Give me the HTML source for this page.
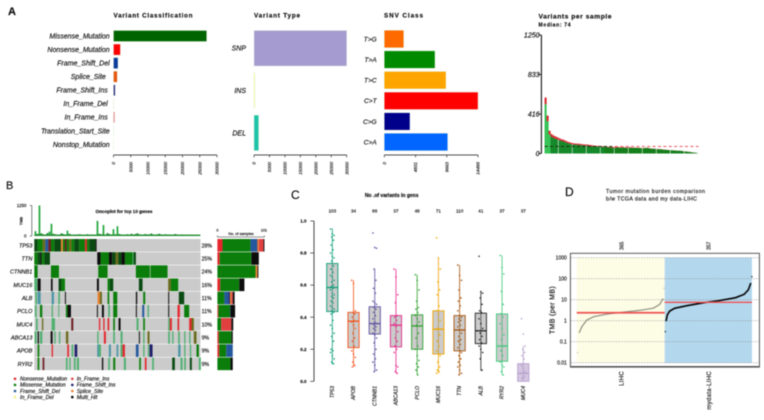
<!DOCTYPE html>
<html lang="en">
<head>
<meta charset="utf-8">
<title>Mutation landscape figure</title>
<style>
html,body{margin:0;padding:0;background:#fff;width:764px;height:420px;overflow:hidden}
svg{display:block;filter:blur(.42px)}
text{font-family:"Liberation Sans",Arial,sans-serif;fill:#0a0a0a;stroke:#0a0a0a;stroke-width:.14px}
.b{font-weight:700}
</style>
</head>
<body>
<svg id="fig" width="764" height="420" viewBox="0 0 764 420" xmlns="http://www.w3.org/2000/svg">
<rect width="764" height="420" fill="#fff"/>
<text class="b" x="8" y="15" font-size="11">A</text>
<text x="6" y="189" font-size="11">B</text>
<text x="291" y="199" font-size="12">C</text>
<text x="565" y="196" font-size="12">D</text>

<text class="b" x="113.5" y="17.5" font-size="6.3" textLength="79">Variant Classification</text>
<text class="b" x="254" y="17.5" font-size="6.3" textLength="46">Variant Type</text>
<text class="b" x="384" y="17.5" font-size="6.3" textLength="39">SNV Class</text>
<text class="b" x="538.5" y="18.5" font-size="6.8" textLength="73">Variants per sample</text>
<text class="b" x="538.5" y="26.5" font-size="5" textLength="32">Median: 74</text>
<text class="b" x="124" y="213" font-size="4.6" text-anchor="middle">Oncoplot for top 10 genes</text>
<text x="241" y="235" font-size="3.8" text-anchor="middle">No. of samples</text>
<text class="b" x="391.7" y="197" font-size="5" text-anchor="middle">No .of variants in gens</text>
<text x="606" y="193" font-size="5.3" textLength="99">Tumor mutation burden comparison</text>
<text x="606" y="200.5" font-size="5.3" textLength="91">b/w TCGA data and my data-LIHC</text>
<text x="0" y="0" font-size="7" transform="translate(554.5,310) rotate(-90)" text-anchor="middle" letter-spacing=".35">TMB (per MB)</text>

<g id="a1"></g>
<g id="a2"></g>
<g id="a3"></g>
<g id="a4"></g>
<g id="b1"></g>
<g id="b2"></g>
<g id="b3"></g>
<g id="b4"></g>
<g id="c1"></g>
<g id="d1"></g>
</svg>
<script>
/* ---------- Panel A data ---------- */
const classCategories = ["Missense_Mutation","Nonsense_Mutation","Frame_Shift_Del","Splice_Site\u00a0\u00a0","Frame_Shift_Ins\u00a0","In_Frame_Del\u00a0","In_Frame_Ins\u00a0","Translation_Start_Site","Nonstop_Mutation"];
const classCounts = [27000,2000,1300,1100,500,120,350,15,10];
const classTicks = [0,5000,10000,15000,20000,25000,30000];
const typeCategories = ["SNP","INS","DEL"];
const typeCounts = [30000,300,1500];
const typeTicks = [0,5000,10000,15000,20000,25000,30000];
const snvCategories = ["T>G","T>A","T>C","C>T","C>G","C>A"];
const snvCounts = [3000,7840,9540,14495,3970,9800];
const snvTicks = [0,4831,9663,14495];
const sampleTotals = [590,400,240,205,190,180,170,160,150,145,135,125,118,112,108,105,104,103,98,97,95,94,90,88,84,82,80,80,78,76,74,72,70,68,67,68,69,66,66,68,64,66,67,63,62,62,61,60,58,58,60,60,56,53,52,50,48,47,45,42,40,38,36,35,33,32,30,30,28,24,22,20,17,14,11,8,4];
const sampleOther = [70,60,40,30,25,25,22,20,18,18,16,15,14,14,12,12,12,14,12,10,12,10,10,12,10,8,8,8,8,6,6,6,6,6,8,6,6,4,4,6,4,4,6,2,4,2,2,2,2,2,2,2,2,2,2,2,2,2,2,2,1,1,1,1,1,1,1,1,1,1,1,1,1,1,1,0,0];
const sampleTicks = [0,416,833,1250];
const sampleMedian = 74;

/* ---------- Panel B data ---------- */
const tmbValues = [200,90,1250,110,70,60,120,180,500,90,70,50,60,110,80,60,220,90,50,40,60,55,70,50,40,50,70,45,60,40,50,620,90,70,450,60,120,80,60,280,70,400,80,50,45,60,70,50,90,60,80,110,70,50,60,80,60,70,100,60,50,70,90,60,50,70,60,55,45,60,80,50,40,60,50,40,30,50,40,30,40,30,25];
const tmbTicks = [0,1250];
const oncoGenes = ["TP53","TTN","CTNNB1","MUC16","ALB","PCLO","MUC4","ABCA13","APOB","RYR2"];
const oncoPercents = ["28%","25%","24%","16%","11%","11%","10%","9%","9%","9%"];
const oncoSegments = [
 [[0,10,"D"],[10,25,"M"],[25,33,"O"],[33,42,"F"],[42,50,"B"],[50,60,"M"],[60,80,"D"],[80,86,"S"],[86,92,"M"],[92,97,"B"],[97,104,"M"],[104,112,"O"],[112,120,"M"],[120,135,"D"],[135,152,"M"],[152,158,"N"],[158,165,"M"],[165,184,"D"],[184,187,"H"]],
 [[0,10,"M"],[10,18,"D"],[18,22,"H"],[22,30,"M"],[30,47,"D"],[189,199,"H"],[199,224,"M"],[224,234,"H"],[234,244,"D"],[244,252,"O"],[252,262,"D"],[262,272,"H"],[272,295,"M"],[295,298,"L"],[298,305,"D"]],
 [[0,10,"M"],[50,74,"M"],[192,220,"M"],[305,347,"M"],[349,400,"M"]],
 [[0,9,"L"],[10,19,"H"],[50,55,"H"],[73,82,"D"],[82,92,"M"],[188,194,"H"],[220,227,"M"],[227,237,"D"],[314,325,"D"],[402,410,"O"],[410,432,"M"]],
 [[3,8,"L"],[10,19,"T"],[52,59,"T"],[72,77,"L"],[92,95,"H"],[190,197,"S"],[197,203,"O"],[220,225,"M"],[237,249,"M"],[305,309,"H"],[327,333,"M"],[402,405,"H"],[434,450,"D"]],
 [[2,7,"L"],[17,24,"M"],[52,56,"L"],[72,75,"L"],[95,100,"M"],[100,110,"H"],[188,191,"H"],[203,209,"H"],[222,227,"L"],[237,249,"M"],[305,308,"H"],[324,330,"F"],[340,344,"L"],[402,405,"H"],[430,437,"N"],[450,465,"M"]],
 [[5,10,"L"],[23,27,"O"],[52,62,"L"],[111,117,"B"],[194,198,"N"],[207,211,"N"],[220,225,"N"],[237,242,"M"],[253,259,"H"],[307,313,"L"],[327,332,"M"],[402,407,"L"],[407,413,"N"],[430,435,"N"],[465,472,"N"],[472,479,"O"]],
 [[1,7,"L"],[10,14,"H"],[17,24,"L"],[49,55,"H"],[60,64,"L"],[74,78,"L"],[95,102,"O"],[189,193,"L"],[209,215,"N"],[237,242,"L"],[259,265,"L"],[314,317,"H"],[327,331,"L"],[340,346,"O"],[402,407,"L"],[414,418,"L"],[432,437,"L"],[450,454,"L"],[465,469,"L"],[479,487,"O"]],
 [[10,15,"M"],[52,56,"N"],[99,104,"N"],[112,117,"L"],[121,129,"P"],[189,194,"T"],[194,200,"L"],[224,230,"T"],[247,252,"T"],[259,265,"L"],[265,272,"N"],[305,313,"F"],[327,331,"L"],[341,345,"L"],[346,355,"P"],[432,439,"T"],[450,454,"L"],[467,471,"L"],[487,494,"M"]],
 [[10,15,"M"],[25,30,"B"],[95,100,"L"],[105,109,"L"],[119,124,"L"],[128,134,"L"],[203,207,"H"],[222,227,"L"],[237,243,"M"],[269,275,"L"],[315,320,"M"],[332,337,"N"],[354,359,"L"],[414,422,"D"],[439,445,"L"],[450,455,"L"],[467,473,"D"],[494,500,"L"]]
];
const stackTypes = ["N","M","F","P","S","I","H"];
const oncoStacks = [
 [11,60,14,1,3,10,2],[5,68,0,0,0,0,16],[0,82,0,0,4,0,2],[6,41,0,0,0,0,11],[0,15,9,3,3,3,4],
 [2,25,1,0,0,0,10],[0,8,0,0,0,22,4],[3,27,0,0,0,0,3],[4,15,14,0,0,0,0],[0,28,0,0,0,0,5]
];
const legendLabels = ["Nonsense_Mutation","Missense_Mutation","Frame_Shift_Del","In_Frame_Del","In_Frame_Ins","Frame_Shift_Ins","Splice_Site","Multi_Hit"];
const legendTypes = ["N","M","F","Y","I","P","S","H"];

/* ---------- Panel C data ---------- */
const boxGenes = ["TP53","APOB","CTNNB1","ABCA13","PCLO","MUC16","TTN","ALB","RYR2","MUC4"];
const boxCounts = [103,34,88,37,48,71,110,41,37,37];
const boxQ1 = [.435,.21,.295,.215,.2,.17,.19,.235,.125,0];
const boxMedian = [.585,.375,.36,.35,.345,.325,.32,.315,.22,.05];
const boxQ3 = [.735,.43,.465,.41,.415,.44,.41,.425,.42,.11];
const boxLow = [.105,.09,.06,.05,.04,.05,.04,.065,.04,0];
const boxHigh = [.955,.63,.70,.70,.665,.77,.725,.56,.785,.22];
const boxTicks = [0,.2,.4,.6,.8,1];
const boxPoints = [
 [.95,.92,.91,.9,.88,.85,.82,.8,.78,.77,.75,.72,.7,.68,.66,.65,.63,.62,.6,.59,.58,.57,.55,.54,.53,.52,.5,.49,.47,.46,.45,.44,.43,.42,.38,.35,.33,.3,.28,.25,.2,.19,.18,.16,.14,.12,.11],
 [.63,.61,.44,.43,.42,.4,.38,.37,.35,.33,.3,.27,.25,.22,.19,.17,.15,.12,.1,.09],
 [.925,.835,.83,.7,.63,.58,.55,.5,.49,.48,.46,.45,.43,.41,.39,.37,.36,.35,.34,.33,.32,.3,.29,.27,.24,.2,.17,.14,.12,.1,.07,.06],
 [.7,.65,.54,.49,.41,.4,.38,.36,.34,.31,.27,.25,.22,.2,.18,.1,.09,.06,.05],
 [.665,.63,.57,.5,.46,.45,.43,.41,.39,.37,.35,.3,.27,.22,.2,.16,.13,.11,.09,.07,.04],
 [.895,.77,.7,.62,.57,.54,.47,.44,.42,.38,.33,.29,.25,.22,.19,.17,.16,.12,.09,.07,.06,.05],
 [.725,.66,.63,.57,.52,.5,.47,.44,.41,.4,.39,.38,.37,.35,.34,.32,.3,.28,.26,.25,.23,.21,.19,.18,.16,.14,.12,.1,.09,.07,.05,.04],
 [.78,.56,.55,.52,.48,.44,.43,.39,.36,.33,.3,.28,.26,.24,.22,.2,.18,.14,.07],
 [.785,.71,.67,.56,.48,.42,.4,.36,.33,.29,.26,.22,.19,.16,.12,.1,.09,.06,.04],
 [.39,.295,.22,.2,.18,.16,.14,.1,.08,.06,.05,.03,.02]
];

/* ---------- Panel D data ---------- */
const tmbTicksLog = [1000,100,10,1,0.1,0.01];
const tmbTickLabels = ["1000","100","10","1","0.1","0.01"];
const lihcRanks = [3,10,20,40,70,130,200,270,320,345,359,363];
const lihcTmb = [.03,.27,.5,1.05,1.55,2.1,2.6,3.2,4,6,11,35];
const lihcMedian = 2.4;
const mydataRanks = [2,5,10,20,40,90,160,220,290,325,342,352,357];
const mydataTmb = [.3,1,1.9,2.9,3.9,5.2,7.2,8.9,12.5,18,29,60,125];
const mydataMedian = 7.5;
const cohortCounts = ["365","357"];
const cohortNames = ["LIHC","mydata-LIHC"];

/* ---------- Drawing helpers ---------- */
const NS = "http://www.w3.org/2000/svg";
const $ = id => document.getElementById(id);
function shape(parent, tag, attrs){
  const el = document.createElementNS(NS, tag);
  for (const k in attrs) el.setAttribute(k, attrs[k]);
  parent.appendChild(el);
  return el;
}
function label(parent, str, x, y, size, anchor, extra){
  const el = shape(parent, "text", Object.assign({x:x, y:y, "font-size":size, "text-anchor":anchor||"start"}, extra||{}));
  el.textContent = str;
  return el;
}
function vlabel(parent, str, x, y, size, anchor, extra){
  const el = shape(parent, "text", Object.assign({x:0, y:0, "font-size":size, "text-anchor":anchor||"end", transform:"translate("+x+","+y+") rotate(-90)"}, extra||{}));
  el.textContent = str;
  return el;
}
function hBars(g, cats, vals, colors, xs, top, pitch, h, labelX, labelDy, labelSize, prefix){
  cats.forEach((c,i)=>{
    const x0 = xs(0), w = xs(vals[i]) - x0, y = top + i*pitch;
    const bar = shape(g,"rect",{x:x0,y:y,width:Math.max(w,.1),height:h,fill:colors[i],stroke:"#dff0d8","stroke-width":.4});
    
    
    const t = label(g,c,labelX,y+h/2+labelDy,labelSize,"end",{"font-style":"italic"});
    
    
  });
}
function xAxis(g, ticks, xs, y, prefix){
  const a = shape(g,"line",{x1:xs(ticks[0]),x2:xs(ticks[ticks.length-1]),y1:y,y2:y,stroke:"#111","stroke-width":.7});
  
  
  ticks.forEach(v=>{
    const k = shape(g,"line",{x1:xs(v),x2:xs(v),y1:y,y2:y+2.4,stroke:"#111","stroke-width":.6});
    
    
    const t = vlabel(g,String(v),xs(v)+1.6,y+7,4.6,"end",{"font-style":"italic"});
    
    
  });
}

/* ---------- Panel A ---------- */
const xClass = v => 113.5 + v/30000*103.5;
hBars($("a1"),classCategories,classCounts,["#006400","#ff0000","#0a3a9a","#e8560f","#2a2a80","#ffffb0","#f07080","#ffffff","#ffffff"],xClass,30.5,13.55,11,109.7,2.4,7,"classification");
xAxis($("a1"),classTicks,xClass,155,"classification");
const xType = v => 254 + v/30000*92.7;
hBars($("a2"),typeCategories,typeCounts,["#a69bd0","#ffff80","#1fc4a8"],xType,30.5,42.3,35.5,246,2.4,7,"type");
xAxis($("a2"),typeTicks,xType,155,"type");
const xSnv = v => 384.3 + v/14495*93.7;
hBars($("a3"),snvCategories,snvCounts,["#ff6a00","#008a00","#ffa500","#ff0000","#00008b","#0066ff"],xSnv,30.3,20.6,17.4,376.7,2.4,6.6,"snv");
xAxis($("a3"),snvTicks,xSnv,155,"snv");

const ySample = v => 153.5 - v/1250*118.5;
const xSample = i => 544.6 + i*2;
sampleTotals.forEach((v,i)=>{
  const other = sampleOther[i]||0;
  const g = shape($("a4"),"rect",{x:xSample(i),y:ySample(v-other),width:i%7===6?1.4:2,height:ySample(0)-ySample(v-other),fill:i<3?"#2fc050":(i<30?"#0c8422":"#0b7a12")});
  
  
  const r = shape($("a4"),"rect",{x:xSample(i),y:ySample(v),width:2,height:ySample(v-other)-ySample(v),fill:"#d8202a"});
  
  
});
const medRed = shape($("a4"),"line",{x1:xSample(0),x2:xSample(77),y1:ySample(sampleMedian),y2:ySample(sampleMedian),stroke:"#e8404a","stroke-width":.9,"stroke-dasharray":"3 2.4"});


const medDark = shape($("a4"),"line",{x1:xSample(0),x2:xSample(34),y1:ySample(sampleMedian),y2:ySample(sampleMedian),stroke:"#0a2a0a","stroke-width":.9,"stroke-dasharray":"3 2.4"});


const sampleAxis = shape($("a4"),"line",{x1:541.4,x2:541.4,y1:ySample(1250),y2:ySample(0),stroke:"#111","stroke-width":1.1});


sampleTicks.forEach(v=>{
  const k = shape($("a4"),"line",{x1:538.2,x2:541.4,y1:ySample(v),y2:ySample(v),stroke:"#111","stroke-width":.9});
  
  
  const t = label($("a4"),String(v),539.5,ySample(v)+2.4,7,"end",{"font-style":"italic"});
  
  
});

/* ---------- Panel B ---------- */
const mutationColors = {M:"#0a7d0a",L:"#4fb070",D:"#0a4a12",O:"#6a6a1c",N:"#e4262c",B:"#6a1c20",F:"#24589c",T:"#4a96a4",H:"#0c0c0c",S:"#e88030",P:"#20206a",I:"#e04040",Y:"#f4f080"};
const yTmb = v => 236 - v/1250*30.5;
const xTmb = i => 34.6 + i*2;
tmbValues.forEach((v,i)=>{
  const r = shape($("b1"),"rect",{x:xTmb(i),y:yTmb(v),width:1.7,height:yTmb(0)-yTmb(v),fill:v>150?"#22a63c":"#1a7a24"});
  
  
});
const tmbBase = shape($("b1"),"rect",{x:34.3,y:234.6,width:166,height:1.4,fill:"#1c8a2c"});


const tmbAxis = shape($("b1"),"line",{x1:31.8,x2:31.8,y1:yTmb(1250),y2:yTmb(0),stroke:"#333","stroke-width":.6});


tmbTicks.forEach(v=>{
  const k = shape($("b1"),"line",{x1:29.8,x2:31.8,y1:yTmb(v),y2:yTmb(v),stroke:"#333","stroke-width":.6});
  
  
  const t = label($("b1"),String(v),26.5,yTmb(v)+1.6,4.4,"end");
  
  
});
const tmbTitle = vlabel($("b1"),"TMB",22.5,221,3.8,"middle",{"font-weight":700});



const xOnco = s => 34.3 + s/499*166.2;
const yOnco = i => 239 + i*13.17;
oncoGenes.forEach((gene,i)=>{
  const bg = shape($("b2"),"rect",{x:xOnco(0),y:yOnco(i),width:xOnco(499)-xOnco(0),height:12.6,fill:"#cbcbcb"});
  
  
  oncoSegments[i].forEach(seg=>{
    const r = shape($("b2"),"rect",{x:xOnco(seg[0]),y:yOnco(i),width:xOnco(seg[1])-xOnco(seg[0]),height:12.6,fill:mutationColors[seg[2]]});
    
    
  });
  const t = label($("b2"),gene,32.4,yOnco(i)+8.3,5.6,"end",{"font-style":"italic"});
  
  
  const p = label($("b2"),oncoPercents[i],201.6,yOnco(i)+8.3,5.2,"start");
  
  
});

const xStack = n => 217.4 + n/101*47;
oncoStacks.forEach((row,i)=>{
  let sum = 0;
  row.forEach((n,j)=>{
    if(!n) return;
    const r = shape($("b3"),"rect",{x:xStack(sum),y:yOnco(i),width:xStack(sum+n)-xStack(sum),height:12.6,fill:mutationColors[stackTypes[j]]});
    
    
    sum += n;
  });
});
const stackAxis = shape($("b3"),"path",{d:"M217.4 235.4V237H264.4V235.4",fill:"none",stroke:"#222","stroke-width":.5});


const stack0 = label($("b3"),"0",217.4,231.5,3.8,"middle");


const stack1 = label($("b3"),"101",264,231.5,3.8,"middle");



legendLabels.forEach((s,i)=>{
  const col = i<4?0:1, row = i%4;
  const d = shape($("b4"),"circle",{cx:col?72.3:15,cy:378.8+row*6.1,r:1.3,fill:mutationColors[legendTypes[i]]});
  
  
  const t = label($("b4"),s,col?76.7:20,380.6+row*6.1,5.3,"start",{"font-style":"italic"});
  
  
});

/* ---------- Panel C ---------- */
const boxColors = ["#0a9d78","#f4541a","#5a4fa0","#e6288a","#2ca02c","#f0a500","#a5530a","#222222","#3cc878","#b7a0cc"];
const yBox = v => 381.3 - v*160.3;
const xBox = i => 332.3 + i*21.22;
const c1 = $("c1");
const boxAxis = shape(c1,"line",{x1:314,x2:314,y1:yBox(1),y2:yBox(0),stroke:"#444","stroke-width":1});


boxTicks.forEach(v=>{
  const k = shape(c1,"line",{x1:310.3,x2:314,y1:yBox(v),y2:yBox(v),stroke:"#444","stroke-width":.8});
  
  
  const t = label(c1,v.toFixed(1),306.5,yBox(v)+1.6,4.5,"end",{"font-weight":700});
  
  
});
boxGenes.forEach((gene,i)=>{
  const col = boxColors[i], cx = xBox(i);
  const n = label(c1,String(boxCounts[i]),cx,212.5,4.6,"middle");
  
  
  const t = vlabel(c1,gene,cx+1.6,386,5,"end",{"font-style":"italic"});
  
  
  const w = shape(c1,"line",{x1:cx,x2:cx,y1:yBox(boxHigh[i]),y2:yBox(boxLow[i]),stroke:col,"stroke-width":.8});
  
  
  const b = shape(c1,"rect",{x:cx-5.6,y:yBox(boxQ3[i]),width:11.2,height:yBox(boxQ1[i])-yBox(boxQ3[i]),fill:i===9?"rgba(183,160,204,.6)":"rgba(130,130,130,.42)",stroke:col,"stroke-width":.9});
  
  
  const m = shape(c1,"line",{x1:cx-5.6,x2:cx+5.6,y1:yBox(boxMedian[i]),y2:yBox(boxMedian[i]),stroke:col,"stroke-width":1.3});
  
  
  boxPoints[i].forEach((v,j)=>{
    const p = shape(c1,"circle",{cx:cx+((j*3)%7-3)*.6,cy:yBox(v),r:.8,fill:col});
    
    
  });
});

/* ---------- Panel D ---------- */
const d1 = $("d1");
const yLog = v => 320.7 - Math.log10(v)*21;
const xLihc = r => 576.9 + r/365*87.6;
const xMy = r => 664.9 + r/357*87;
const frame = shape(d1,"rect",{x:570.4,y:253.3,width:189,height:113.6,fill:"#fff"});


const bgL = shape(d1,"rect",{x:576.7,y:257.5,width:88,height:105.5,fill:"#fdfde6"});


const bgM = shape(d1,"rect",{x:664.7,y:257.5,width:87.3,height:105.5,fill:"#b3d8ee"});


tmbTicksLog.forEach((v,i)=>{
  const g = shape(d1,"line",{x1:571,x2:759,y1:yLog(v),y2:yLog(v),stroke:"#8a8a8a","stroke-width":.5,"stroke-dasharray":"1.6 1.2"});
  
  
  const t = label(d1,tmbTickLabels[i],566.8,yLog(v)+1.8,5,"end");
  
  
});
const lihcLine = shape(d1,"polyline",{points:lihcRanks.slice(1,11).map((r,i)=>xLihc(r)+","+yLog(lihcTmb[i+1])).join(" "),fill:"none",stroke:"#8e8e80","stroke-width":1.2});


lihcRanks.forEach((r,i)=>{
  const p = shape(d1,"circle",{cx:xLihc(r),cy:yLog(lihcTmb[i]),r:.5,fill:"#8e8e80"});
  
  
});
const myLine = shape(d1,"polyline",{points:mydataRanks.slice(1,12).map((r,i)=>xMy(r)+","+yLog(mydataTmb[i+1])).join(" "),fill:"none",stroke:"#050505","stroke-width":1.6});


mydataRanks.forEach((r,i)=>{
  const p = shape(d1,"circle",{cx:xMy(r),cy:yLog(mydataTmb[i]),r:.65,fill:"#050505"});
  
  
});
const medL = shape(d1,"line",{x1:576.7,x2:664.7,y1:yLog(lihcMedian),y2:yLog(lihcMedian),stroke:"#f05050","stroke-width":1.8});


const medM = shape(d1,"line",{x1:664.7,x2:752,y1:yLog(mydataMedian),y2:yLog(mydataMedian),stroke:"#f05050","stroke-width":1.3});


const border = shape(d1,"path",{d:"M570.4 366.9V253.3H759.4V366.9",fill:"none",stroke:"#444","stroke-width":.9});


const bottomBorder = shape(d1,"line",{x1:570,x2:759.8,y1:366.8,y2:366.8,stroke:"#555","stroke-width":1.6});


[621.7,709].forEach((x,i)=>{
  const c = vlabel(d1,cohortCounts[i],x+1.7,250,5,"start");
  
  
  const n = vlabel(d1,cohortNames[i],x+2,371,6,"end",{"letter-spacing":".3"});
  
  
});
</script>
</body>
</html>
